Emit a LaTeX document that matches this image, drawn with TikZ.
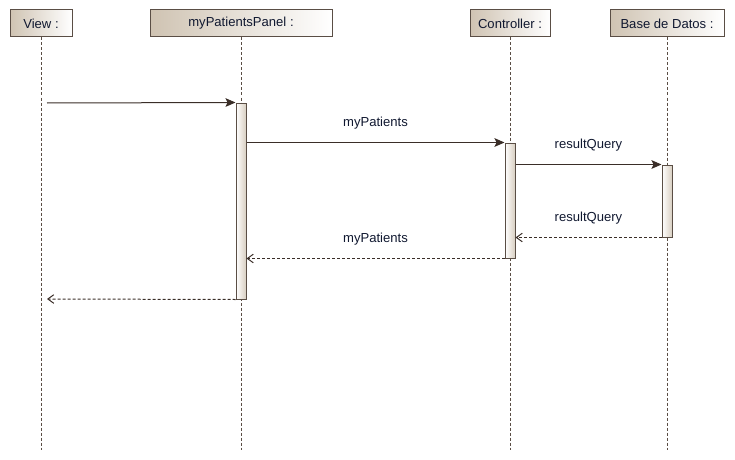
\documentclass[tikz,border=0pt]{standalone}
\usepackage{fontspec}
\setmainfont{Liberation Sans}
\usetikzlibrary{arrows.meta,positioning}
\definecolor{umlline}{HTML}{5A4E45}
\definecolor{umlmsg}{HTML}{3A2E28}
\definecolor{umltan}{HTML}{CFC3B2}
\definecolor{umltext}{HTML}{101830}

\begin{document}
\begin{tikzpicture}[x=0.75pt, y=-0.75pt, font=\fontsize{9.8}{12}\selectfont,
  head/.style={draw=umlline, line width=0.75pt, left color=umltan, right color=white,
    minimum height=20.25pt, inner sep=0pt, text=umltext},
  act/.style={draw=umlline, line width=0.75pt, left color=white, right color=umltan!80,
    minimum width=7.5pt, inner sep=0pt},
  lifeline/.style={draw=umlline, line width=0.6pt, dash pattern=on 2.25pt off 1.5pt},
  call/.style={draw=umlmsg, line width=0.75pt, -{Stealth[length=7.5pt, width=6.5pt, inset=1.5pt]}},
  reply/.style={draw=umlmsg, line width=0.75pt, dash pattern=on 2.25pt off 1.5pt,
    -{Straight Barb[length=4.5pt, width=6.5pt]}},
  msg/.style={midway, yshift=14.5pt, text=umltext}]

  \useasboundingbox (0,0) rectangle (735,460);

  % lifeline heads
  \node[head, minimum width=46.5pt]  (view)  at (41,23.5)  {View :};
  \node[head, minimum width=136.5pt] (panel) at (241,23.5) {myPatientsPanel :};
  \node[head, minimum width=60pt]    (ctrl)  at (510,23.5) {Controller :};
  \node[head, minimum width=85.5pt]  (db)    at (667,23.5) {Base de Datos :};

  \coordinate (bottom) at (0,450);
  \foreach \n in {view,panel,ctrl,db}
    \draw[lifeline] (\n.south) -- (\n.south |- bottom);

  % activations
  \node[act, minimum height=147pt]   (actP) at (241,201)   {};
  \node[act, minimum height=86.25pt] (actC) at (510,200.5) {};
  \node[act, minimum height=54pt]    (actD) at (667,201)   {};

  \coordinate (vIn)  at (47,103);
  \coordinate (vOut) at (47,299);

  % messages
  \draw[call]  (vIn) -- (actP.north west);
  \draw[call]  (actP.east |- actC.north west) -- (actC.north west)
    node[msg] {myPatients};
  \draw[call]  (actC.east |- actD.north west) -- (actD.north west)
    node[msg] {resultQuery};
  \draw[reply] (actD.south west) -- (actC.east |- actD.south west)
    node[msg] {resultQuery};
  \draw[reply] (actC.south west) -- (actP.east |- actC.south west)
    node[msg] {myPatients};
  \draw[reply] (actP.south west) -- (vOut);
\end{tikzpicture}
\end{document}
